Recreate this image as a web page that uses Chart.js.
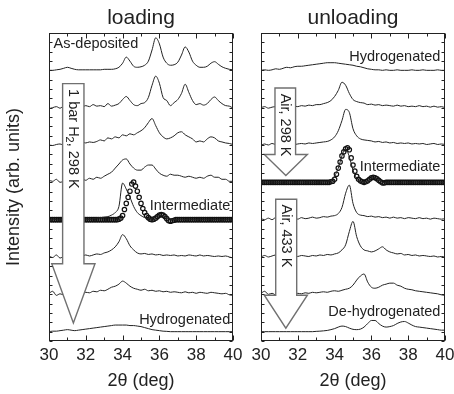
<!DOCTYPE html>
<html>
<head>
<meta charset="utf-8">
<script src="https://cdn.jsdelivr.net/npm/chart.js@4/dist/chart.umd.min.js"></script>
<style>
  html, body { margin: 0; padding: 0; background: #fff; }
  #wrap { position: relative; width: 454px; height: 394px; }
  canvas { position: absolute; top: 0; }
  #loading { left: 0; }
  #unloading { left: 245px; }
</style>
</head>
<body>
<div id="wrap">
  <canvas id="loading" width="245" height="394"></canvas>
  <canvas id="unloading" width="209" height="394"></canvas>
</div>
<script>
// 2-theta grid of the measured scans (deg)
const twoTheta = [
  30, 30.2, 30.4, 30.6, 30.8, 31, 31.2, 31.4, 31.6, 31.8,
  32, 32.2, 32.4, 32.6, 32.8, 33, 33.2, 33.4, 33.6, 33.8,
  34, 34.2, 34.4, 34.6, 34.8, 35, 35.2, 35.4, 35.6, 35.8,
  36, 36.2, 36.4, 36.6, 36.8, 37, 37.2, 37.4, 37.6, 37.8,
  38, 38.2, 38.4, 38.6, 38.8, 39, 39.2, 39.4, 39.6, 39.8,
  40
];
// finer grid of the fitted "intermediate" curves (circles)
const twoThetaFit = [
  30, 30.1, 30.2, 30.3, 30.4, 30.5, 30.6, 30.7, 30.8, 30.9,
  31, 31.1, 31.2, 31.3, 31.4, 31.5, 31.6, 31.7, 31.8, 31.9,
  32, 32.1, 32.2, 32.3, 32.4, 32.5, 32.6, 32.7, 32.8, 32.9,
  33, 33.1, 33.2, 33.3, 33.4, 33.5, 33.6, 33.7, 33.8, 33.9,
  34, 34.1, 34.2, 34.3, 34.4, 34.5, 34.6, 34.7, 34.8, 34.9,
  35, 35.1, 35.2, 35.3, 35.4, 35.5, 35.6, 35.7, 35.8, 35.9,
  36, 36.1, 36.2, 36.3, 36.4, 36.5, 36.6, 36.7, 36.8, 36.9,
  37, 37.1, 37.2, 37.3, 37.4, 37.5, 37.6, 37.7, 37.8, 37.9,
  38, 38.1, 38.2, 38.3, 38.4, 38.5, 38.6, 38.7, 38.8, 38.9,
  39, 39.1, 39.2, 39.3, 39.4, 39.5, 39.6, 39.7, 39.8, 39.9,
  40
];

// ---- loading (top scan first) ----
const asDeposited = [
  0, 0, 0.5, 1, 2,  3, 2, 1, 0.5, 0.5,  0.5, 0.5, 0.5, 0.5, 0.5,  1, 1, 1, 1.5, 3,
  7, 13, 9, 4, 3,  3.5, 5, 9, 20, 32,  26, 13, 7, 5, 5.5,  8, 15, 23, 18, 9,
  5, 3, 3, 4, 7,  8.5, 6, 3.5, 2, 1,  0.5
];
const loadScan1 = [
  -1, 0, 1, -0.5, 1.5,  0.5, 2, 1, 2.5, 1,  2, 1, 3, 1.5, 2,  1, 4, 1.5, 2.5, 4,
  8, 11, 7, 3, 2,  4, 5, 10, 22, 31,  24, 10, 7, 2, 5,  8, 14, 23, 15, 7,
  3, 4, 2.5, 4, 8,  10.5, 7, 4, 2, 1.5,  -0.5
];
const loadScan2 = [
  0, -0.5, 0.5, 1, 0,  1.5, 1, 2, 1, 2.5,  2, 3, 2.5, 3.5, 5,  4, 7, 6, 8, 7,
  10, 9, 11, 10, 12,  14, 17, 22, 26, 19,  12, 8, 6, 7, 9,  12, 13, 10, 8, 6,
  3, 4, 3, 6, 8,  7, 4, 3, 2, 1.5,  0.5
];
const loadScan3 = [
  2, 1, 3, 0, 1,  2, 1, 3, 2, 3,  2, 4, 3, 5, 4,  6, 8, 10, 14, 18,
  22, 23, 18, 14, 12,  12, 15, 17, 17, 13,  9, 7, 6, 8, 7,  7, 6, 5, 6, 5,
  4, 5, 4, 6, 7,  5, 5, 3, 3, 1,  1
];
const loadIntermediate = [
  0, 0.5, 0, -0.5, 0.5,  0, 0.5, 0, 0.5, 0,  0.5, 0, 1, 1.5, 2,  2.5, 3, 4.5, 7, 13,
  36, 30, 22, 13, 7,  4, 2, 1, 1.5, 2.5,  4, 4, 2, 0.5, 0,  0, 0.5, 0, 0.5, 0,
  0, 0.5, 0, 0, 0.5,  0, 0.5, 0, 0, 0.5,  0
];
const loadIntermediateFit = [
  0, 0, 0, 0, 0, 0, 0, 0, 0, 0,
  0, 0, 0, 0, 0, 0, 0, 0, 0, 0,
  0, 0, 0, 0, 0, 0, 0, 0, 0, 0,
  0, 0, 0, 0, 0, 0, 0, 0, 0.5, 1.5,
  4, 10, 16, 22, 28, 35, 37, 33, 28, 22,
  16, 11, 7, 4, 2, 0.5, 0, 0.5, 1.5, 3,
  4.5, 5, 4.5, 3, 1, -1, -1.5, -1, -0.5, 0,
  0, 0, 0, 0, 0, 0, 0, 0, 0, 0,
  0, 0, 0, 0, 0, 0, 0, 0, 0, 0,
  0, 0, 0, 0, 0, 0, 0, 0, 0, 0,
  0
];
const loadScan5 = [
  1, -0.5, 2, -1, 0.5,  1, 0, 1.5, 0.5, 1,  2, 1, 2, 3, 2.5,  4, 5, 7, 10, 15,
  22, 18, 11, 7, 4,  3, 3.5, 2.5, 3, 2,  2.5, 1.5, 2, 1.5, 2,  1, 1.5, 1, 2, 1.5,
  1, 2, 1, 1.5, 1,  0.5, 1, 0.5, 1, 0,  -1
];
const loadScan6 = [
  1, 3, -1, 0.5, -0.5,  0, 1, 0, 1.5, 1,  2, 1.5, 3, 2.5, 4,  3.5, 5, 7, 8, 10,
  13, 11, 8, 6, 5,  4, 5, 3.5, 4, 3,  3.5, 2.5, 3, 2, 2.5,  2, 1.5, 2.5, 1.5, 2,
  1, 2, 1.5, 1, 2,  1.5, 1, 0.5, 1, -0.5,  -1
];
const loadHydrogenated = [
  0, 0.5, 0.5, 1, 1.5,  2, 1.5, 1, 1.5, 2,  2.5, 3, 3.5, 4, 4.5,  5, 5.5, 6, 6.5, 6.5,
  6.5, 6.5, 6, 6, 5.5,  5, 4, 3, 2, 1.5,  1, 0.5, 0.3, 0, 0,  0, 0, 0, 0, 0,
  0, 0, 0, 0, 0,  0, 0, 0, 0, 0,  0
];

// ---- unloading (top scan first) ----
const unloadHydrogenated = [
  0, 0.5, 0, 0.5, 1.5,  1, 2, 3, 2.5, 3.5,  4, 4, 4.5, 5, 5.5,  6, 6.5, 7, 7.5, 7.5,
  7.5, 7, 6.5, 6, 5.5,  5, 4, 3.5, 2.5, 1.5,  1, 0.5, 0.5, 0, 0.5,  0, 0, 0.5, 0, 0,
  0, 0.5, 0, 0, 0.5,  0, 0, 0, 0.5, 0,  0
];
const unloadScan1 = [
  0, 1, -0.5, 0.5, 1,  0, 1.5, 0.5, 1, 1.5,  1, 2, 1.5, 2.5, 2,  3, 3, 4, 5, 7,
  11, 17, 25, 22, 14,  8, 6, 5, 4.5, 3,  3.5, 2.5, 3, 2, 2.5,  2, 1.5, 2.5, 1.5, 2,
  1, 1.5, 1, 2, 1,  1.5, 0.5, 1.5, 0.5, 1,  0
];
const unloadScan2 = [
  0, 1, 0, 1.5, 0.5,  1, 0, 1, 1.5, 0.5,  1, 1.5, 1, 2, 1.5,  2, 2.5, 3, 3.5, 5,
  8, 14, 24, 35, 32,  16, 9, 6, 5, 4.5,  4, 3, 3.5, 2.5, 3,  2, 2.5, 1.5, 2, 1.5,
  2, 1, 1.5, 1, 1.5,  0.5, 1, 1.5, 0.5, 1,  0.5
];
const unloadIntermediate = [
  0, 0.5, 0, 0.5, 0,  0, 0.5, 0, 0.5, 0,  0, 0.5, 0, 0.5, 0,  0, 0.5, 0.5, 1, 2,
  6, 14, 26, 33, 25,  12, 4, 1, 0.5, 1.5,  4, 4.5, 2, 0, -0.5,  0, 0.5, 0, 0, 0.5,
  0, 0, 0.5, 0, 0,  0.5, 0, 0, 0.5, 0,  0
];
const unloadIntermediateFit = [
  0, 0, 0, 0, 0, 0, 0, 0, 0, 0,
  0, 0, 0, 0, 0, 0, 0, 0, 0, 0,
  0, 0, 0, 0, 0, 0, 0, 0, 0, 0,
  0, 0, 0, 0, 0, 0, 0, 0, 0.5, 1,
  3, 8, 14, 20, 26, 30, 33, 34, 32, 24,
  17, 11, 6, 3, 1.5, 0.5, 0, 0.5, 1.5, 3,
  4.5, 5, 4.5, 3.5, 2, 0.5, -0.5, -0.5, 0, 0,
  0, 0, 0, 0, 0, 0, 0, 0, 0, 0,
  0, 0, 0, 0, 0, 0, 0, 0, 0, 0,
  0, 0, 0, 0, 0, 0, 0, 0, 0, 0,
  0
];
const unloadScan4 = [
  1, 0, 1.5, 0, 2,  1, 0.5, 2, 1, 1.5,  0.5, 2, 1, 1.5, 2.5,  1.5, 2, 3, 2.5, 3.5,
  4, 6, 12, 26, 34,  16, 7, 4.5, 4, 3,  3.5, 2.5, 3, 2, 2.5,  1.5, 2.5, 1.5, 2, 1,
  2, 1.5, 1, 2, 1,  1.5, 0.5, 1.5, 1, 0.5,  1
];
const unloadScan5 = [
  0, 1.5, 0, 1, 2,  0.5, 1.5, 0, 1, 1.5,  0.5, 1.5, 1, 0.5, 1.5,  1, 2, 1.5, 2.5, 2,
  3, 4, 7, 12, 25,  35, 20, 11, 7, 6,  5, 6, 8, 10, 7,  5, 4, 3, 3.5, 2,
  2.5, 1.5, 2, 1, 1.5,  1, 0.5, 1, 0, 0.5,  0
];
const unloadScan6 = [
  1, 3, 0, 1, -0.5,  1, 0, 0.5, 1, 0,  1, 0.5, 1.5, 1, 2,  1.5, 2, 2.5, 2, 3,
  3.5, 3, 4, 5, 6,  9, 14, 18, 20, 12,  7, 6, 7, 9, 10,  11, 11, 9, 8, 6,
  5, 4.5, 3.5, 3, 2.5,  2, 1.5, 1, 0.5, -0.5,  -1
];
const deHydrogenated = [
  0, 0, 0, 0, 0,  0, 0, 0, 0, 0,  0, 0, 0, 0, 0,  0.3, 0.5, 0.8, 1.2, 2,
  3, 4.5, 5.5, 5, 3.5,  2.3, 2, 2.5, 4.5, 8,  11, 11, 8, 5.5, 4.5,  5, 6, 8, 9.5, 10,
  8.5, 6.5, 5, 4.5, 4,  3.5, 3, 2.5, 2, 1.5,  1.5
];

const loadingScans = [asDeposited, loadScan1, loadScan2, loadScan3, loadIntermediate, loadScan5, loadScan6, loadHydrogenated];
const unloadingScans = [unloadHydrogenated, unloadScan1, unloadScan2, unloadIntermediate, unloadScan4, unloadScan5, unloadScan6, deHydrogenated];
const xTickLabels = [30, 32, 34, 36, 38, 40];

const SPACING = 36.7;   // vertical offset between stacked scans
const INK = '#222';
const FONT = "'Liberation Sans', Arial, sans-serif";
Chart.defaults.font.family = FONT;
Chart.defaults.color = INK;

function stack(xs, ys, level) {
  return ys.map((v, i) => ({ x: xs[i], y: v + level * SPACING }));
}

function scanSets(scans) {
  const n = scans.length;
  return scans.map((s, i) => ({
    data: stack(twoTheta, s, n - 1 - i),
    borderColor: INK,
    borderWidth: 1,
    pointRadius: 0,
    cubicInterpolationMode: 'monotone',
    fill: false
  }));
}

function fitSet(fit, level) {
  return {
    data: stack(twoThetaFit, fit, level),
    showLine: false,
    pointRadius: 2.2,
    pointBorderWidth: 1.2,
    pointBorderColor: '#111',
    pointBackgroundColor: 'rgba(0,0,0,0)'
  };
}

const decor = {
  id: 'decor',
  afterDatasetsDraw(chart, args, opts) {
    const { ctx, chartArea: a } = chart;
    const xs = chart.scales.x, ys = chart.scales.y;
    ctx.save();

    // big process arrows
    opts.arrows.forEach(ar => {
      const L = xs.getPixelForValue(ar.shaft[0]), R = xs.getPixelForValue(ar.shaft[1]);
      const HL = xs.getPixelForValue(ar.head[0]), HR = xs.getPixelForValue(ar.head[1]);
      const T = ys.getPixelForValue(ar.top), B = ys.getPixelForValue(ar.neck);
      const tipY = ys.getPixelForValue(ar.tip), tipX = (HL + HR) / 2;
      ctx.beginPath();
      ctx.moveTo(L, T); ctx.lineTo(R, T); ctx.lineTo(R, B); ctx.lineTo(HR, B);
      ctx.lineTo(tipX, tipY); ctx.lineTo(HL, B); ctx.lineTo(L, B); ctx.closePath();
      ctx.fillStyle = '#fff'; ctx.fill();
      ctx.strokeStyle = '#707070'; ctx.lineWidth = 1.4; ctx.stroke();

      ctx.save();
      ctx.translate((L + R) / 2, ys.getPixelForValue(ar.textAt));
      ctx.rotate(Math.PI / 2);
      ctx.fillStyle = INK; ctx.textAlign = 'left'; ctx.textBaseline = 'middle';
      let pos = 0;
      ar.text.forEach(part => {
        ctx.font = (part.sub ? '11px ' : '14.5px ') + FONT;
        ctx.fillText(part.t, pos, part.sub ? 4 : 0);
        pos += ctx.measureText(part.t).width;
      });
      ctx.restore();
    });

    // scan labels
    ctx.font = '14.5px ' + FONT; ctx.fillStyle = INK; ctx.textBaseline = 'middle';
    opts.labels.forEach(l => {
      ctx.textAlign = l.align;
      ctx.fillText(l.text, xs.getPixelForValue(l.x), ys.getPixelForValue(l.y));
    });

    // frame with inward ticks
    const l = Math.round(a.left) + 0.5, r = Math.round(a.right) - 0.5;
    const t = Math.round(a.top) + 0.5, b = Math.round(a.bottom) - 0.5;
    ctx.strokeStyle = INK; ctx.lineWidth = 1;
    ctx.strokeRect(l, t, r - l, b - t);
    ctx.beginPath();
    for (let v = xs.min; v <= xs.max; v += 1) {
      const px = Math.round(xs.getPixelForValue(v)) + 0.5;
      const len = v % 2 === 0 ? 5 : 3;
      ctx.moveTo(px, b); ctx.lineTo(px, b - len);
      ctx.moveTo(px, t); ctx.lineTo(px, t + len);
    }
    for (let v = ys.min; v <= ys.max + 0.01; v += SPACING / 4) {
      const py = Math.round(ys.getPixelForValue(v)) + 0.5;
      ctx.moveTo(l, py); ctx.lineTo(l + 3, py);
      ctx.moveTo(r, py); ctx.lineTo(r - 3, py);
    }
    ctx.stroke();
    ctx.restore();
  }
};

function panel(canvasId, title, datasets, padding, showYTitle, arrows, labels) {
  return new Chart(document.getElementById(canvasId), {
    type: 'line',
    data: { datasets },
    plugins: [decor],
    options: {
      responsive: false,
      animation: false,
      devicePixelRatio: 1,
      layout: { padding },
      plugins: {
        legend: { display: false },
        tooltip: { enabled: false },
        title: {
          display: true, text: title, color: INK, fullSize: false,
          font: { size: 21, weight: 'normal' },
          padding: { top: 5.4, bottom: 2.4 }
        },
        decor: { arrows, labels }
      },
      scales: {
        x: {
          type: 'linear', min: 30, max: 40,
          afterBuildTicks: s => { s.ticks = xTickLabels.map(v => ({ value: v })); },
          // let the end labels hang over the plot edges, the layout padding places the frame
          afterFit: s => { s.paddingLeft = 0; s.paddingRight = 0; },
          ticks: { font: { size: 17 }, color: INK, padding: 4, maxRotation: 0 },
          grid: { display: false, drawTicks: false },
          border: { display: false },
          title: {
            display: true, text: '2θ (deg)', color: INK,
            font: { size: 18 }, padding: { top: 0.8, bottom: 2.2 }
          }
        },
        y: {
          type: 'linear', min: -SPACING / 4, max: 8 * SPACING,
          display: showYTitle,
          ticks: { display: false },
          grid: { display: false, drawTicks: false },
          border: { display: false },
          title: {
            display: true, text: 'Intensity (arb. units)', color: INK,
            font: { size: 18 }, padding: { top: 3.2, bottom: 24.2 }
          }
        }
      }
    }
  });
}

panel('loading', 'loading',
  scanSets(loadingScans).concat([fitSet(loadIntermediateFit, 3)]),
  { left: 0, right: 12, top: 0, bottom: 0 }, true,
  [{ shaft: [30.74, 31.9], head: [30.15, 32.5], top: 243.8, neck: 66.8, tip: 8.5, textAt: 238.5,
     text: [{ t: '1 bar H' }, { t: '2', sub: true }, { t: ', 298 K' }] }],
  [{ text: 'As-deposited', x: 30.25, y: 282.8, align: 'left' },
   { text: 'Intermediate', x: 39.85, y: 123.8, align: 'right' },
   { text: 'Hydrogenated', x: 39.85, y: 11.1, align: 'right' }]
);

panel('unloading', 'unloading',
  scanSets(unloadingScans).concat([fitSet(unloadIntermediateFit, 4)]),
  { left: 16, right: 9, top: 0, bottom: 0 }, false,
  [{ shaft: [30.76, 31.88], head: [30.18, 32.52], top: 239.5, neck: 174.1, tip: 153.5, textAt: 234,
     text: [{ t: 'Air, 298 K' }] },
   { shaft: [30.8, 31.94], head: [30.18, 32.52], top: 130.1, neck: 35.8, tip: 3.5, textAt: 125,
     text: [{ t: 'Air, 433 K' }] }],
  [{ text: 'Hydrogenated', x: 39.75, y: 270.1, align: 'right' },
   { text: 'Intermediate', x: 39.75, y: 161.8, align: 'right' },
   { text: 'De-hydrogenated', x: 39.75, y: 19.1, align: 'right' }]
);
</script>
</body>
</html>
